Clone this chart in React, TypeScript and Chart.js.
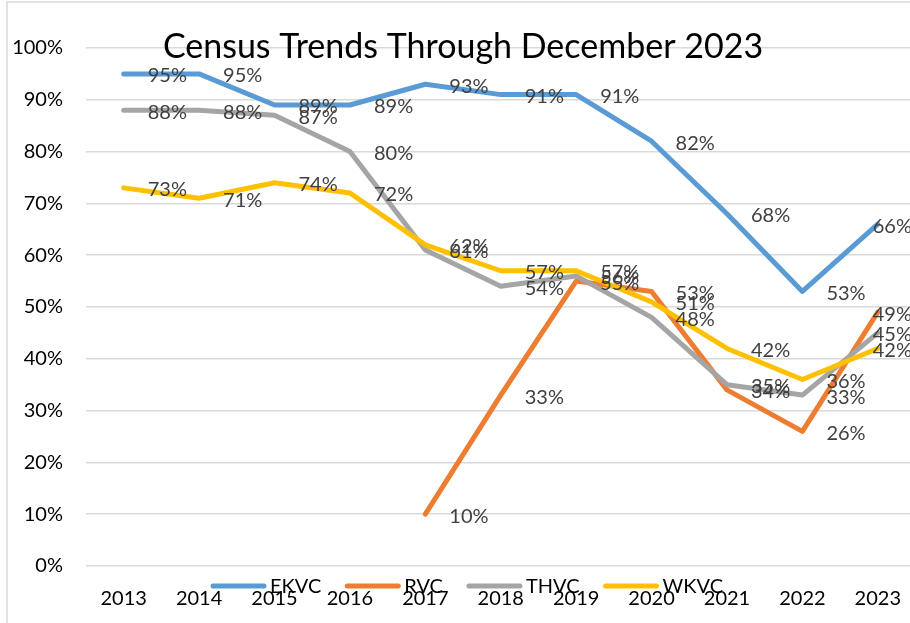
import React, { useEffect, useRef } from "react";
import { Chart, registerables } from "chart.js";

Chart.register(...registerables);

const years = ["2013", "2014", "2015", "2016", "2017", "2018", "2019", "2020", "2021", "2022", "2023"];
const ekvc = [95, 95, 89, 89, 93, 91, 91, 82, 68, 53, 66];
const rvc = [null, null, null, null, 10, 33, 55, 53, 34, 26, 49];
const thvc = [88, 88, 87, 80, 61, 54, 56, 48, 35, 33, 45];
const wkvc = [73, 71, 74, 72, 62, 57, 57, 51, 42, 36, 42];
const seriesNames = ["EKVC", "RVC", "THVC", "WKVC"];
const seriesColors = ["#5B9BD5", "#ED7D31", "#A5A5A5", "#FFC000"];
const titleText = "Census Trends Through December 2023";

const FONT = "Lato, 'Open Sans', sans-serif";
const TICK_SIZE = 20;

const framePlugin = {
  id: "frame",
  beforeDraw(chart: any) {
    const ctx = chart.ctx;
    ctx.save();
    ctx.fillStyle = "#ffffff";
    ctx.fillRect(0, 0, chart.width, chart.height);
    ctx.strokeStyle = "#D9D9D9";
    ctx.lineWidth = 1.5;
    ctx.strokeRect(7, 2, chart.width + 50, chart.height + 50);
    ctx.restore();
  },
};

const labelPlugin = {
  id: "pointLabels",
  afterDatasetsDraw(chart: any) {
    const ctx = chart.ctx;
    ctx.save();
    ctx.font = `${TICK_SIZE}px ${FONT}`;
    ctx.fillStyle = "#404040";
    ctx.textBaseline = "middle";
    ctx.textAlign = "left";
    chart.data.datasets.forEach((ds: any, i: number) => {
      const meta = chart.getDatasetMeta(i);
      meta.data.forEach((pt: any, j: number) => {
        const v = ds.data[j];
        if (v === null || v === undefined) return;
        const txt = `${v}%`;
        const w = ctx.measureText(txt).width;
        let x = pt.x + 24;
        if (x + w > 912) x = 912 - w;
        ctx.fillText(txt, x, pt.y + 2);
      });
    });
    ctx.restore();
  },
};

const titleLegendPlugin = {
  id: "titleLegend",
  afterDraw(chart: any) {
    const ctx = chart.ctx;
    ctx.save();
    ctx.fillStyle = "#000000";
    ctx.font = `34px ${FONT}`;
    ctx.textAlign = "center";
    ctx.textBaseline = "alphabetic";
    ctx.fillText(titleText, 463, 58);

    ctx.font = `${TICK_SIZE}px ${FONT}`;
    const lineLen = 55;
    const gapText = 4;
    const gapItem = 24;
    const widths = seriesNames.map((n) => ctx.measureText(n).width);
    const total = widths.reduce((a, w) => a + lineLen + gapText + w, 0) + gapItem * (seriesNames.length - 1);
    let x = 467 - total / 2;
    const y = 586;
    ctx.textAlign = "left";
    ctx.textBaseline = "middle";
    chart.data.datasets.forEach((ds: any, i: number) => {
      ctx.strokeStyle = ds.borderColor;
      ctx.lineWidth = 5;
      ctx.lineCap = "round";
      ctx.beginPath();
      ctx.moveTo(x + 2, y);
      ctx.lineTo(x + lineLen - 2, y);
      ctx.stroke();
      ctx.fillStyle = "#000000";
      ctx.fillText(ds.label, x + lineLen + gapText, y + 1);
      x += lineLen + gapText + widths[i] + gapItem;
    });
    ctx.restore();
  },
};

export default function App() {
  const ref = useRef<HTMLCanvasElement | null>(null);
  useEffect(() => {
    if (!ref.current) return;
    const seriesData = [ekvc, rvc, thvc, wkvc];
    const chart = new Chart(ref.current, {
      type: "line",
      data: {
        labels: years,
        datasets: seriesNames.map((name, i) => ({
          label: name,
          data: seriesData[i],
          borderColor: seriesColors[i],
          backgroundColor: seriesColors[i],
          borderWidth: 5,
          pointRadius: 0,
          tension: 0,
          borderJoinStyle: "round",
          borderCapStyle: "round",
          spanGaps: false,
          order: seriesNames.length - 1 - i,
        })),
      } as any,
      options: {
        responsive: false,
        animation: false,
        layout: { padding: { top: 48, left: 0, right: 0, bottom: 0 } },
        plugins: {
          legend: { display: false },
          title: { display: false },
          tooltip: { enabled: false },
        },
        scales: {
          x: {
            offset: true,
            grid: { display: false, drawTicks: false },
            border: { display: false },
            ticks: {
              padding: 21,
              color: "#000000",
              font: { family: FONT, size: TICK_SIZE },
              maxRotation: 0,
              autoSkip: false,
            },
            afterFit: (s: any) => {
              s.height = 57;
            },
          },
          y: {
            min: 0,
            max: 100,
            grid: { color: "#D9D9D9", lineWidth: 1.5, drawTicks: false },
            border: { display: false },
            ticks: {
              stepSize: 10,
              padding: 23,
              color: "#000000",
              font: { family: FONT, size: TICK_SIZE },
              callback: (v: any) => `${v}%`,
            },
            afterFit: (s: any) => {
              s.width = 86;
            },
          },
        },
      } as any,
      plugins: [framePlugin, labelPlugin, titleLegendPlugin],
    });
    return () => chart.destroy();
  }, []);

  return (
    <div
      style={{
        position: "fixed",
        left: 0,
        top: 0,
        width: 910,
        height: 623,
        overflow: "hidden",
        background: "#ffffff",
      }}
    >
      <canvas ref={ref} width={922} height={623} style={{ display: "block" }} />
    </div>
  );
}
